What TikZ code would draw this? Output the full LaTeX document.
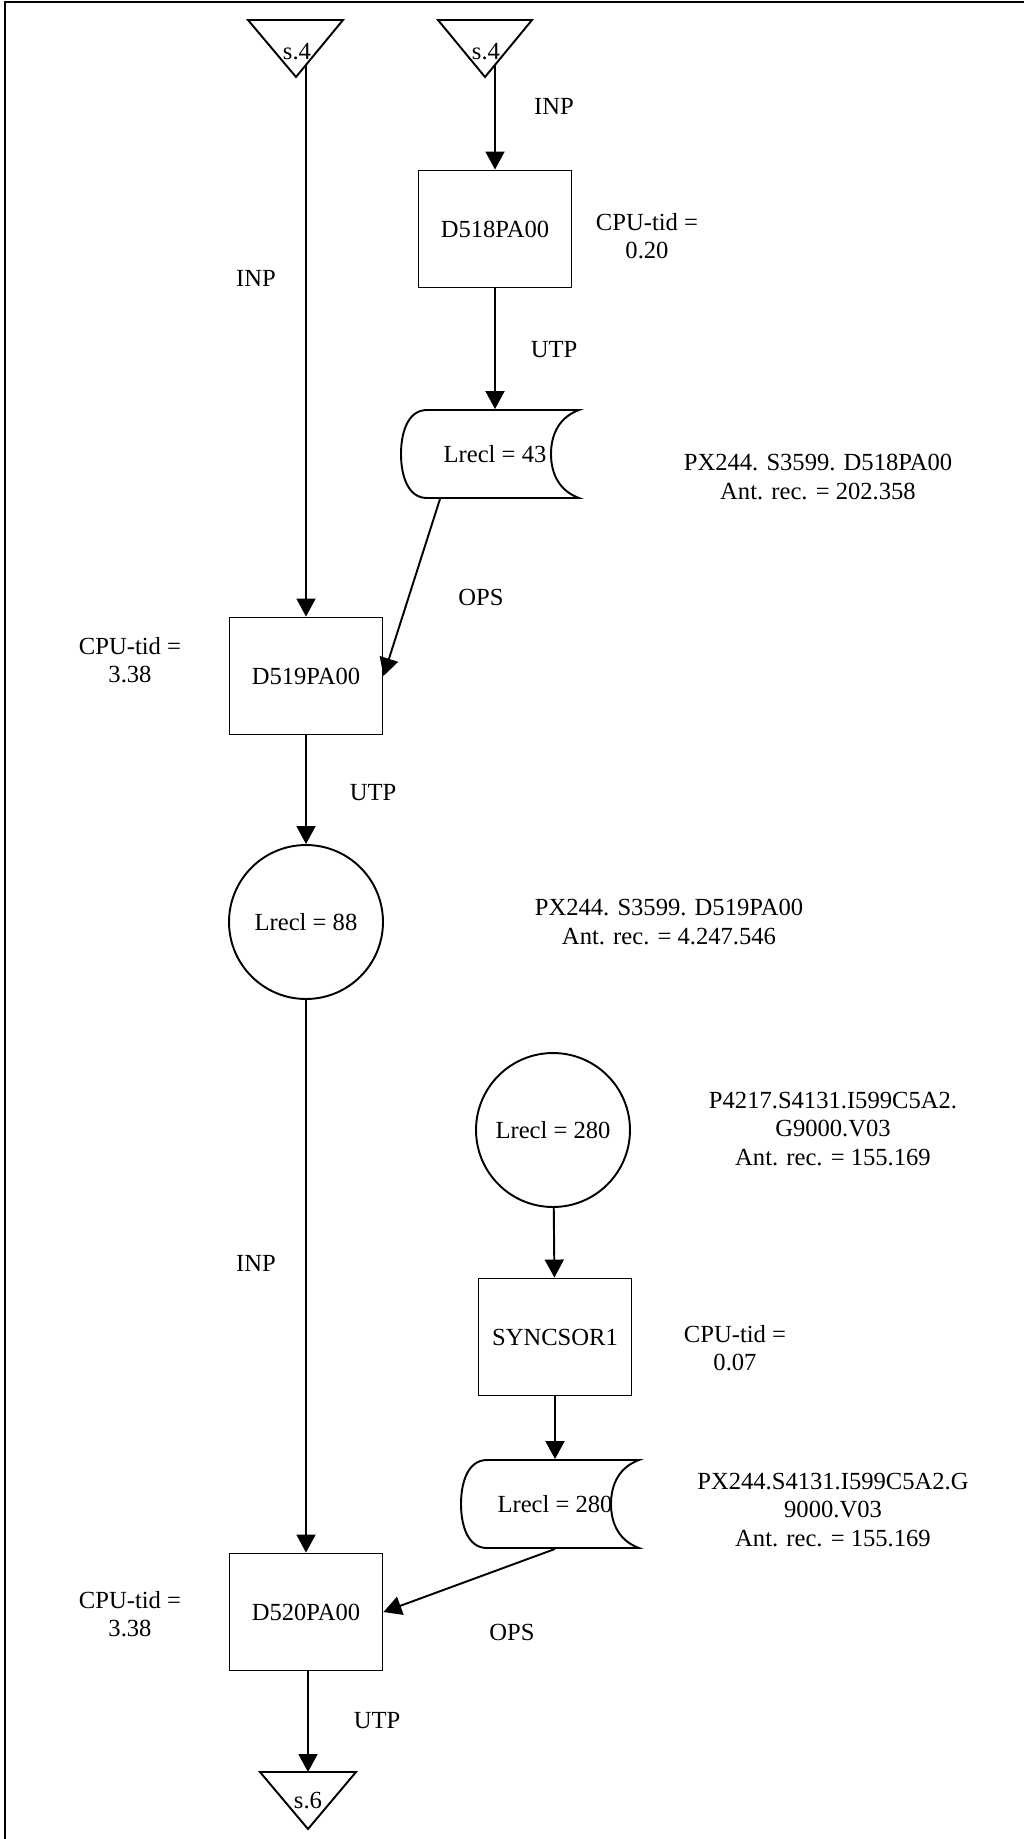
\documentclass[tikz,border=0pt]{standalone}
\usepackage{fontspec}
\setmainfont{Liberation Serif}
\usetikzlibrary{arrows.meta,calc}

\begin{document}
\begin{tikzpicture}[x=0.02cm,y=-0.02cm,>={Triangle[length=3.6mm,width=3.8mm]},
          font=\fontsize{14}{16}\selectfont, line width=1.1pt,
          proc/.style={draw,minimum width=3.06cm,minimum height=2.34cm,inner sep=0pt},
          store/.style={circle,draw,minimum size=3.08cm,inner sep=0pt},
          file/.style={minimum width=2.6cm,minimum height=1.76cm,inner sep=0pt},
          lbl/.style={align=center,inner sep=0pt}]
        \useasboundingbox (0,0) rectangle (1024,1839);
        % frame
        \draw[line width=1.3pt] (5,1839) -- (5,2) -- (1024,2);
        % off-page connectors
        \coordinate (t1) at (296,77); \coordinate (t1out) at (306,65);
        \coordinate (t2) at (485,77); \coordinate (t2out) at (495,65);
        \coordinate (t3) at (308,1829); \coordinate (t3in) at (308,1772);
        \draw (248,20) -- (343,20) -- (t1) -- cycle;
        \draw (438,20) -- (532,20) -- (t2) -- cycle;
        \draw (260,1772) -- (356,1772) -- (t3) -- cycle;
        \node[lbl] (t1txt) at (297,52) {s.4};
        \node[lbl] (t2txt) at (486,52) {s.4};
        \node[lbl] (t3txt) at (308,1801) {s.6};
        % programs and files
        \node[proc] (d518) at (495,229) {D518PA00};
        \node[file] (f43) at (495,454) {Lrecl = 43};
        \node[proc] (d519) at (306,676) {D519PA00};
        \node[store] (c88) at (306,922) {Lrecl = 88};
        \node[store] (c280) at (553,1130) {Lrecl = 280};
        \node[proc] (sync) at (555,1337) {SYNCSOR1};
        \node[file] (f280) at (555,1504) {Lrecl = 280};
        \node[proc] (d520) at (306,1612) {D520PA00};
        \foreach \f in {f43,f280}
          \draw ($(\f)+(-68,-44)$) -- ($(\f)+(84,-44)$)
            to[out=200,in=90] ($(\f)+(56,0)$) to[out=270,in=160] ($(\f)+(84,44)$)
            -- ($(\f)+(-68,44)$) to[out=180,in=270] ($(\f)+(-94,0)$)
            to[out=90,in=180] cycle;
        % texts beside
        \node[lbl] (cpu1) at (647,236) {CPU-tid =\\0.20};
        \node[lbl] (cpu2) at (130,660) {CPU-tid =\\3.38};
        \node[lbl] (cpu3) at (735,1348) {CPU-tid =\\0.07};
        \node[lbl] (cpu4) at (130,1614) {CPU-tid =\\3.38};
        \node[lbl] (px1) at (818,477) {PX244. S3599. D518PA00\\Ant. rec. = 202.358};
        \node[lbl] (px2) at (669,922) {PX244. S3599. D519PA00\\Ant. rec. = 4.247.546};
        \node[lbl] (px3) at (833,1129) {P4217.S4131.I599C5A2.\\G9000.V03\\Ant. rec. = 155.169};
        \node[lbl] (px4) at (833,1510) {PX244.S4131.I599C5A2.G\\9000.V03\\Ant. rec. = 155.169};
        \node[lbl] (inp1) at (554,106) {INP};
        \node[lbl] (inp2) at (256,278) {INP};
        \node[lbl] (inp3) at (256,1263) {INP};
        \node[lbl] (utp1) at (554,350) {UTP};
        \node[lbl] (utp2) at (373,793) {UTP};
        \node[lbl] (utp3) at (377,1721) {UTP};
        \node[lbl] (ops1) at (481,597) {OPS};
        \node[lbl] (ops2) at (512,1632) {OPS};
        % flows
        \draw[->] (t2out)--(d518); \draw[->] (d518)--(f43);
        \draw[->] (t1out)--(d519);
        \draw[->] ($(f43.south)+(-55,0)$)--(d519.east);
        \draw[->] (d519)--(c88);
        \draw[->] (c88)--(d520);
        \draw[->] (c280)--(sync); \draw[->] (sync)--(f280);
        \draw[->] (f280.south)--(d520.east);
        \draw[->] (d520.south -| t3in)--(t3in);
      \end{tikzpicture}
\end{document}
